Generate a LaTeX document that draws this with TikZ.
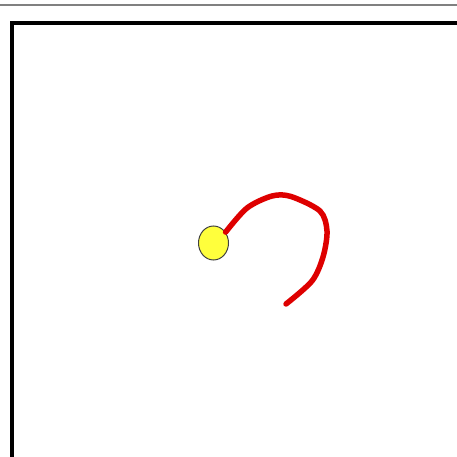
\documentclass[tikz,border=0pt]{standalone}
\usepackage{tikz}
\usetikzlibrary{shapes.geometric}

\definecolor{ballyellow}{RGB}{255,255,60}
\definecolor{pathred}{RGB}{222,0,0}

\begin{document}
\begin{tikzpicture}[x=1pt,y=-1pt]
				\useasboundingbox (0,0) rectangle (457,457);
				\clip (0,0) rectangle (457,457);
				\draw[color=black!50, line width=1.5pt] (0,5) to (457,5);
				\draw[-, line width=4pt] (11.5,470) to (11.5,23) to (470,23);
				\node[ellipse, draw=black!75, line width=1pt, fill=ballyellow, minimum width=30pt, minimum height=34pt, inner sep=0pt] (ball) at (213.5,243) {};
				\coordinate (tail) at (286,304);
				\draw[color=pathred, line width=5.5pt, line cap=round, line join=round] plot[smooth, tension=0.5] coordinates {(ball.42) (247,208) (272,196) (291,196.5) (320,211) (327,231) (323,257) (312,281) (tail)};
			\end{tikzpicture}
\end{document}
